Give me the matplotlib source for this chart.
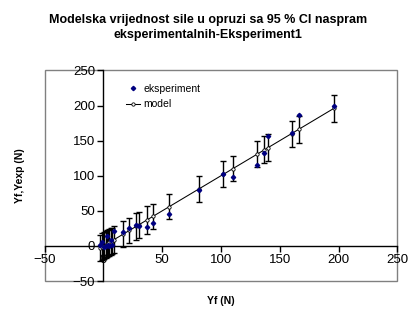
import matplotlib
matplotlib.use('Agg')
import matplotlib.pyplot as plt
from matplotlib.patches import Rectangle

plt.rcParams['font.family'] = ['Liberation Sans', 'DejaVu Sans']

# model values (Yf), experimental values (Yexp), 95 % CI half width
yf = [-3, -1, 0.5, 2, 3, 4, 5, 6, 7, 9, 17, 22, 28, 30, 37, 42, 56, 81,
      102, 110, 131, 137, 140, 160, 166, 196]
yexp = [2, 5, -1, 0, 14, 2, 0, 8, 2, 21, 20, 26, 30, 29, 27, 32, 45, 80,
        103, 98, 115, 133, 157, 161, 187, 200]
ci = [19, 19, 19, 19, 19, 19, 19, 19, 19, 19, 18, 18, 19, 19, 19.5, 18, 17.5, 18.5,
      18.5, 18, 18.5, 19, 19, 18.6, 18.7, 19.3]

fig = plt.figure(figsize=(4.16, 3.21), dpi=100)
ax = fig.add_axes([0.1075, 0.1246, 0.8475, 0.6558])

ax.errorbar(yf, yf, yerr=ci, fmt='none', ecolor='black', elinewidth=1,
            capsize=2.5, capthick=1, zorder=2)
ax.plot(yf, yexp, linestyle='none', marker='D', markersize=2.2,
        color='#000080', label='eksperiment', zorder=4)
ax.plot(yf, yf, color='black', linewidth=0.75, marker='o', markersize=2.4,
        markerfacecolor='white', markeredgecolor='black',
        markeredgewidth=0.6, label='model', zorder=3)

ax.set_xlim(-50, 250)
ax.set_ylim(-50, 250)
ax.set_xticks([-50, 0, 50, 100, 150, 200, 250])
ax.set_yticks([-50, 0, 50, 100, 150, 200, 250])

for s in ['left', 'bottom']:
    ax.spines[s].set_position(('data', 0))
    ax.spines[s].set_color('black')
    ax.spines[s].set_linewidth(1)
for s in ['top', 'right']:
    ax.spines[s].set_visible(False)
ax.tick_params(direction='out', length=4, width=1, labelsize=9.5,
               colors='black', pad=2)

ax.add_patch(Rectangle((0, 0), 1, 1, transform=ax.transAxes, fill=False,
                       edgecolor='#808080', linewidth=1, clip_on=False))

ax.legend(loc='upper left', bbox_to_anchor=(0.215, 0.96), frameon=False,
          fontsize=7.5, handlelength=1.4, handletextpad=0.3, borderpad=0,
          labelspacing=0.5)

fig.text(0.5, 0.915, 'Modelska vrijednost sile u opruzi sa 95 % CI naspram\n'
         'eksperimentalnih-Eksperiment1', ha='center', va='center',
         fontsize=9, fontweight='bold', linespacing=1.3)
fig.text(0.531, 0.062, 'Yf (N)', ha='center', va='center', fontsize=7.5,
         fontweight='bold')
fig.text(0.048, 0.452, 'Yf,Yexp (N)', ha='center', va='center', rotation=90,
         fontsize=7.5, fontweight='bold')

plt.savefig('out.png', dpi=100)
